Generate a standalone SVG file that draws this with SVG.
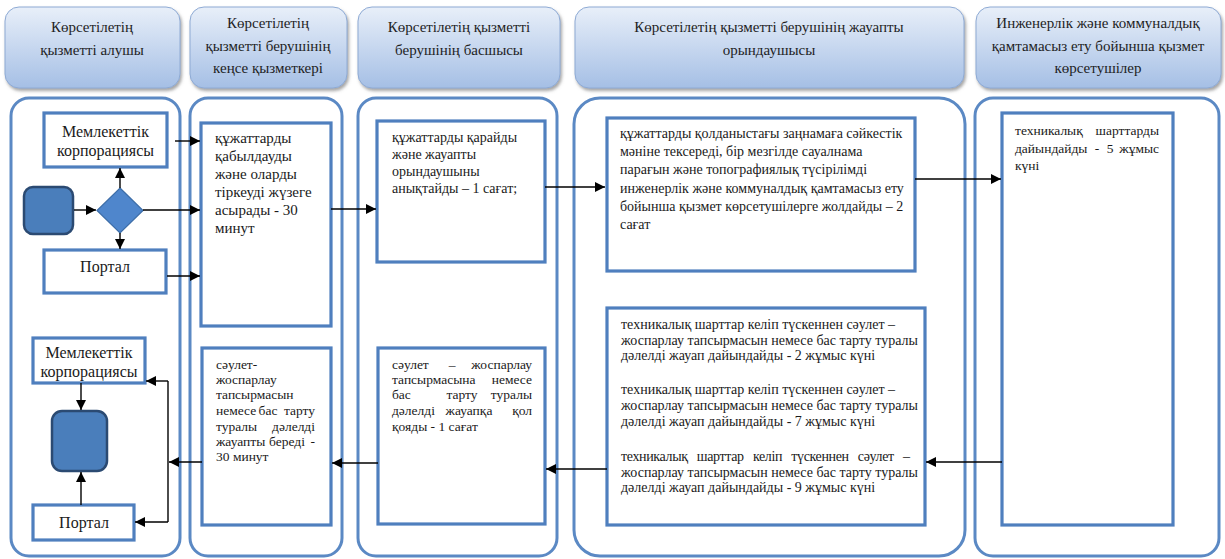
<svg xmlns="http://www.w3.org/2000/svg" width="1225" height="559" viewBox="0 0 1225 559">
<defs>
<linearGradient id="hg" x1="0" y1="0" x2="0" y2="1">
<stop offset="0" stop-color="#e8eff9"/>
<stop offset="1" stop-color="#a5bfe5"/>
</linearGradient>
<marker id="ah" viewBox="0 0 10 10" refX="10" refY="5" markerWidth="10" markerHeight="10" markerUnits="userSpaceOnUse" orient="auto">
<path d="M0,0 L10,5 L0,10 z" fill="#000"/>
</marker>
<filter id="sh" x="-10%" y="-10%" width="130%" height="140%">
<feDropShadow dx="1.5" dy="2.5" stdDeviation="1.5" flood-color="#6b6b6b" flood-opacity="0.6"/>
</filter>
</defs>
<style>
.hdr{fill:url(#hg);stroke:#8eaad4;stroke-width:1;filter:url(#sh)}
.lane{fill:#fff;stroke:#5b89c4;stroke-width:3}
.box{fill:#fff;stroke:#4f7fbe;stroke-width:3.2}
.ht{font-family:"Liberation Serif","Times New Roman","DejaVu Serif",serif;font-size:15px;fill:#1e1e1e;text-anchor:middle}
.t{font-family:"Liberation Serif","Times New Roman","DejaVu Serif",serif;font-size:14px;fill:#1a1a1a}
.s{font-family:"Liberation Serif","Times New Roman","DejaVu Serif",serif;font-size:13.5px;fill:#1a1a1a}
.t15{font-family:"Liberation Serif","Times New Roman","DejaVu Serif",serif;font-size:15px;fill:#1a1a1a}
.nt{font-family:"Liberation Serif","Times New Roman","DejaVu Serif",serif;font-size:16px;fill:#1a1a1a;text-anchor:middle}
.e{text-anchor:end}
.m{text-anchor:middle}
.c{fill:none;stroke:#000;stroke-width:1.4}
.ca{fill:none;stroke:#000;stroke-width:1.4;marker-end:url(#ah)}
.term{fill:#4a7ebb;stroke:#2b4a72;stroke-width:2.5}
</style>
<rect width="1225" height="559" fill="#fff"/>

<g id="header1"><rect class="hdr" x="5" y="7" width="175" height="81" rx="14"/>
<text class="ht" x="92" y="32">Көрсетілетің</text><text class="ht" x="92" y="55">қызметті алушы</text></g>
<g id="header2"><rect class="hdr" x="190" y="7" width="157" height="81" rx="14"/>
<text class="ht" x="268" y="28">Көрсетілетің</text><text class="ht" x="268" y="51">қызметті берушінің</text><text class="ht" x="268" y="73">кеңсе қызметкері</text></g>
<g id="header3"><rect class="hdr" x="358" y="7" width="202" height="81" rx="14"/>
<text class="ht" x="459" y="32">Көрсетілетің қызметті</text><text class="ht" x="459" y="55">берушінің басшысы</text></g>
<g id="header4"><rect class="hdr" x="575" y="7" width="389" height="81" rx="14"/>
<text class="ht" x="769" y="32">Көрсетілетің қызметті берушінің жауапты</text><text class="ht" x="769" y="55">орындаушысы</text></g>
<g id="header5"><rect class="hdr" x="976" y="7" width="245" height="81" rx="14"/>
<text class="ht" x="1098" y="28">Инженерлік және коммуналдық</text><text class="ht" x="1098" y="51">қамтамасыз ету бойынша қызмет</text><text class="ht" x="1098" y="73">көрсетушілер</text></g>

<g id="lane1"><rect class="lane" x="11" y="98" width="169" height="458" rx="18"/></g>
<g id="lane2"><rect class="lane" x="190" y="98" width="152" height="458" rx="18"/></g>
<g id="lane3"><rect class="lane" x="358" y="98" width="199" height="458" rx="18"/></g>
<g id="lane4"><rect class="lane" x="574" y="98" width="391" height="458" rx="26"/></g>
<g id="lane5"><rect class="lane" x="975" y="98" width="244" height="458" rx="18"/></g>

<g id="start"><rect class="term" x="24" y="187" width="49" height="47" rx="9"/></g>
<g id="decision"><polygon points="120,188 143,210.5 120,233 97,210.5" fill="#4f86cc" stroke="#3c6da8" stroke-width="1.2"/></g>
<g id="gov1"><rect class="box" x="44" y="113" width="123" height="54"/>
<text class="nt" x="105.5" y="137">Мемлекеттік</text><text class="nt" x="105.5" y="156">корпорациясы</text></g>
<g id="portal1"><rect class="box" x="44" y="250" width="122" height="43"/>
<text class="nt" x="105" y="272">Портал</text></g>

<g id="gov2"><rect class="box" x="33" y="338" width="112" height="45"/>
<text class="nt" x="89" y="358">Мемлекеттік</text><text class="nt" x="89" y="377">корпорациясы</text></g>
<g id="end"><rect class="term" x="52" y="411" width="55" height="60" rx="10"/></g>
<g id="portal2"><rect class="box" x="33" y="505" width="101" height="35"/>
<text class="nt" x="84" y="528">Портал</text></g>

<g id="office1"><rect class="box" x="201" y="123" width="130" height="203"/>
<text class="t15" x="215"><tspan x="215" y="143">құжаттарды</tspan><tspan x="215" y="161">қабылдауды</tspan><tspan x="215" y="179">және оларды</tspan><tspan x="215" y="197">тіркеуді жүзеге</tspan><tspan x="215" y="215">асырады - 30</tspan><tspan x="215" y="233">минут</tspan></text></g>

<g id="office2"><rect class="box" x="202" y="348" width="129" height="177"/>
<text class="s" x="216" y="369">сәулет-</text>
<text class="s" x="216" y="384">жоспарлау</text>
<text class="s" x="216" y="399">тапсырмасын</text>
<text class="s" x="216" y="415">немесе</text><text class="s m" x="268" y="415">бас</text><text class="s e" x="315" y="415">тарту</text>
<text class="s" x="216" y="431">туралы</text><text class="s e" x="315" y="431">дәлелді</text>
<text class="s" x="216" y="446">жауапты</text><text class="s m" x="287" y="446">береді</text><text class="s e" x="315" y="446">-</text>
<text class="s" x="216" y="461">30 минут</text></g>

<g id="head1"><rect class="box" x="377" y="121" width="168" height="141"/>
<text class="t" x="392"><tspan x="392" y="142">құжаттарды қарайды</tspan><tspan x="392" y="159">және жауапты</tspan><tspan x="392" y="176">орындаушыны</tspan><tspan x="392" y="193">анықтайды – 1 сағат;</tspan></text></g>

<g id="head2"><rect class="box" x="378" y="348" width="167" height="176"/>
<text class="s" x="392" y="369">сәулет</text><text class="s m" x="452" y="369">–</text><text class="s e" x="532" y="369">жоспарлау</text>
<text class="s" x="392" y="384">тапсырмасына</text><text class="s e" x="532" y="384">немесе</text>
<text class="s" x="392" y="399">бас</text><text class="s m" x="462" y="399">тарту</text><text class="s e" x="532" y="399">туралы</text>
<text class="s" x="392" y="415">дәлелді</text><text class="s m" x="469" y="415">жауапқа</text><text class="s e" x="532" y="415">қол</text>
<text class="s" x="392" y="431">қояды  - 1 сағат</text></g>

<g id="exec1"><rect class="box" x="607" y="118" width="308" height="153"/>
<text class="t" x="620"><tspan x="620" y="138">құжаттарды қолданыстағы заңнамаға сәйкестік</tspan><tspan x="620" y="156">мәніне тексереді, бір мезгілде сауалнама</tspan><tspan x="620" y="174">парағын және топографиялық түсірілімді</tspan><tspan x="620" y="193">инженерлік және коммуналдық қамтамасыз ету</tspan><tspan x="620" y="211">бойынша қызмет көрсетушілерге жолдайды – 2</tspan><tspan x="620" y="229">сағат</tspan></text></g>

<g id="exec2"><rect class="box" x="607" y="308" width="318" height="217"/>
<text class="t" x="621"><tspan x="621" y="329">техникалық шарттар келіп түскеннен сәулет –</tspan><tspan x="621" y="345">жоспарлау тапсырмасын немесе бас тарту туралы</tspan><tspan x="621" y="360">дәлелді жауап дайындайды - 2 жұмыс күні</tspan><tspan x="621" y="394">техникалық шарттар келіп түскеннен сәулет –</tspan><tspan x="621" y="410">жоспарлау тапсырмасын немесе бас тарту туралы</tspan><tspan x="621" y="426">дәлелді жауап дайындайды - 7 жұмыс күні</tspan></text>
<text class="t" x="621" y="461" textLength="289" lengthAdjust="spacing" word-spacing="6">техникалық шарттар келіп түскеннен сәулет –</text>
<text class="t" x="621"><tspan x="621" y="477">жоспарлау тапсырмасын немесе бас тарту туралы</tspan><tspan x="621" y="492">дәлелді жауап дайындайды - 9 жұмыс күні</tspan></text></g>

<g id="provider"><rect class="box" x="1002" y="113" width="171" height="412"/>
<text class="s" x="1015" y="135">техникалық</text><text class="s e" x="1159" y="135">шарттарды</text>
<text class="s" x="1015" y="153">дайындайды</text><text class="s m" x="1097" y="153">-</text><text class="s m" x="1110" y="153">5</text><text class="s e" x="1159" y="153">жұмыс</text>
<text class="s" x="1015" y="170">күні</text></g>

<g id="connectors">
<line class="ca" x1="175" y1="141" x2="200" y2="141"/>
<line class="ca" x1="74" y1="210" x2="96" y2="210"/>
<line class="ca" x1="120" y1="188" x2="120" y2="168"/>
<line class="ca" x1="120" y1="233" x2="120" y2="249"/>
<line class="ca" x1="143" y1="210" x2="200" y2="210"/>
<line class="ca" x1="167" y1="276" x2="200" y2="276"/>
<line class="ca" x1="331" y1="209" x2="376" y2="209"/>
<line class="ca" x1="545" y1="187" x2="605" y2="187"/>
<line class="ca" x1="915" y1="179" x2="1001" y2="179"/>
<line class="ca" x1="1002" y1="462" x2="926" y2="462"/>
<line class="ca" x1="607" y1="469" x2="546" y2="469"/>
<line class="ca" x1="378" y1="463" x2="332" y2="463"/>
<line class="ca" x1="202" y1="462" x2="169" y2="462"/>
<line class="c" x1="168" y1="381" x2="168" y2="522"/>
<line class="ca" x1="168" y1="381" x2="146" y2="381"/>
<line class="ca" x1="168" y1="522" x2="135" y2="522"/>
<line class="ca" x1="81" y1="383" x2="81" y2="410"/>
<line class="ca" x1="81" y1="505" x2="81" y2="472"/>
</g>
</svg>
